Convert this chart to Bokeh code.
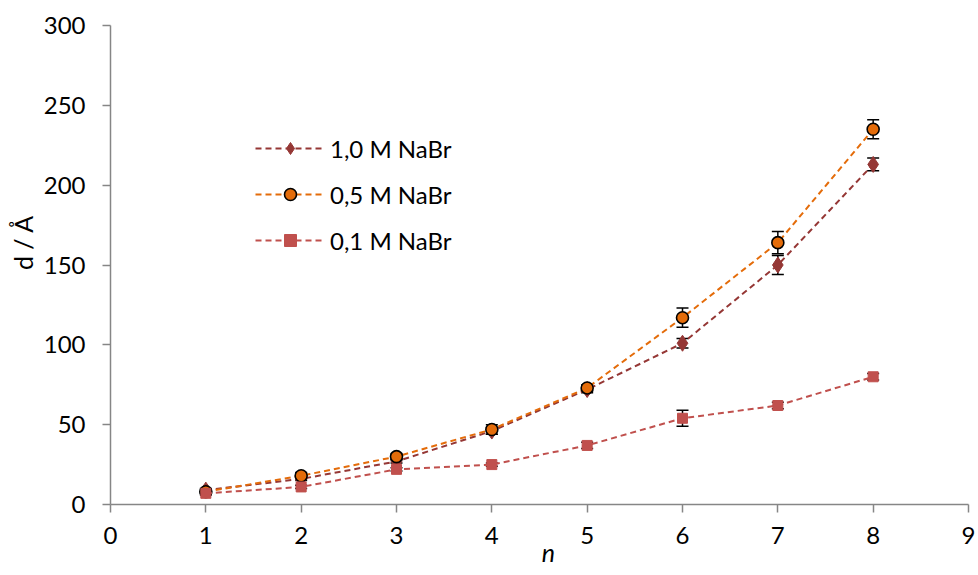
from bokeh.plotting import figure
from bokeh.models import (Range1d, ColumnDataSource, Whisker, TeeHead, Legend,
                          LegendItem, FixedTicker)
from bokeh.embed import file_html
from bokeh.resources import INLINE

n = [1, 2, 3, 4, 5, 6, 7, 8]
d_10 = [9, 16, 27, 46, 72, 101, 150, 213]
e_10 = [1, 1, 1, 2, 2, 3, 6, 4]
d_05 = [8, 18, 30, 47, 73, 117, 164, 235]
e_05 = [1, 2, 2, 3, 2, 6, 7, 6]
d_01 = [7, 11, 22, 25, 37, 54, 62, 80]
e_01 = [1, 1, 1, 1, 2, 5, 2, 2]
names = ["1,0 M NaBr", "0,5 M NaBr", "0,1 M NaBr"]
x_ticks = [0, 1, 2, 3, 4, 5, 6, 7, 8, 9]
y_ticks = [0, 50, 100, 150, 200, 250, 300]

FONT = "Lato"
NB = "\u00a0"
p = figure(width=976, height=575, output_backend="svg", toolbar_location=None,
           x_range=Range1d(0, 9), y_range=Range1d(0, 300),
           min_border_left=110, min_border_right=8, min_border_top=25,
           min_border_bottom=71)
p.outline_line_color = None
p.xgrid.visible = False
p.ygrid.visible = False
for ax in (p.xaxis[0], p.yaxis[0]):
    ax.axis_line_color = "#868686"
    ax.axis_line_width = 1.5
    ax.major_tick_line_color = "#868686"
    ax.major_tick_line_width = 1.5
    ax.major_tick_out = 8
    ax.major_tick_in = 0
    ax.minor_tick_line_color = None
    ax.major_label_text_font = FONT
    ax.major_label_text_font_size = "24px"
    ax.major_label_text_color = "black"
    ax.axis_label_text_font = FONT
    ax.axis_label_text_font_size = "25px"
    ax.axis_label_text_color = "black"
p.xaxis[0].ticker = FixedTicker(ticks=x_ticks)
p.yaxis[0].ticker = FixedTicker(ticks=y_ticks)
p.xaxis[0].major_label_standoff = 14
p.yaxis[0].major_label_standoff = 17
p.xaxis[0].axis_label = NB * 3 + "n"
p.xaxis[0].axis_label_text_font_style = "italic"
p.xaxis[0].axis_label_standoff = -10
p.yaxis[0].axis_label = NB * 7 + "d / Å"
p.yaxis[0].axis_label_text_font_style = "normal"
p.yaxis[0].axis_label_standoff = 3

series = [
    (d_10, e_10, "#953735", "diamond", 16, "#953735", 1),
    (d_05, e_05, "#E46C0A", "circle", 12, "black", 1.6),
    (d_01, e_01, "#C0504D", "square", 10, "#C0504D", 1),
]
items = []
for (d, e, col, mk, sz, lc, lw), name in zip(series, names):
    src = ColumnDataSource(dict(x=n, y=d,
                                upper=[a + b for a, b in zip(d, e)],
                                lower=[a - b for a, b in zip(d, e)]))
    w = Whisker(base="x", upper="upper", lower="lower", source=src,
                line_color="black", line_width=1.5,
                upper_head=TeeHead(size=12, line_color="black", line_width=1.5),
                lower_head=TeeHead(size=12, line_color="black", line_width=1.5))
    p.add_layout(w)
    ln = p.line("x", "y", source=src, line_color=col, line_width=2,
                line_dash="6 4")
    sc = p.scatter("x", "y", source=src, marker=mk, size=sz, fill_color=col,
                   line_color=lc, line_width=lw)
    items.append(LegendItem(label=name, renderers=[ln, sc]))

legend = Legend(items=items, location=(145, 249), padding=0, margin=0,
                spacing=16, glyph_width=70, glyph_height=30, label_height=20,
                label_standoff=5, border_line_color=None,
                background_fill_alpha=0, label_text_font=FONT,
                label_text_font_size="24px", label_text_color="black")
p.add_layout(legend, "center")

open("out.html", "w").write(file_html(p, INLINE))
